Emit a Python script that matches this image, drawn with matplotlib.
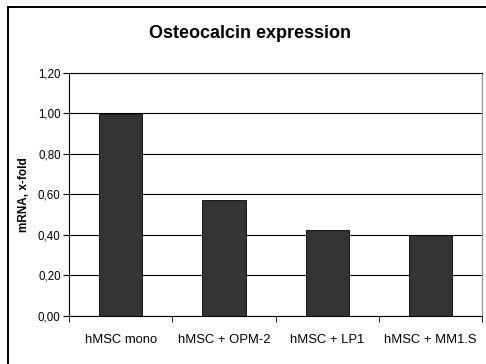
import matplotlib
matplotlib.use("Agg")
import matplotlib.pyplot as plt
from matplotlib.patches import Rectangle
import numpy as np

plt.rcParams['font.family'] = ['Liberation Sans', 'DejaVu Sans']

# data
categories = ["hMSC mono", "hMSC + OPM-2", "hMSC + LP1", "hMSC + MM1.S"]
values = [0.995, 0.57, 0.425, 0.40]
yticks = [0.0, 0.2, 0.4, 0.6, 0.8, 1.0, 1.2]
ytick_labels = ["0,00", "0,20", "0,40", "0,60", "0,80", "1,00", "1,20"]

fig = plt.figure(figsize=(4.86, 3.64), dpi=100)
ax = fig.add_axes([0.142, 0.132, 0.850, 0.668])

x = np.arange(len(categories))
ax.bar(x, values, width=0.42, color="#333333", edgecolor="black", linewidth=0.6, zorder=3)

ax.set_xlim(-0.5, len(categories) - 0.5)
ax.set_ylim(0, 1.2)
ax.set_yticks(yticks)
ax.set_yticklabels(ytick_labels, fontsize=8.3)
ax.yaxis.grid(True, color="black", linewidth=0.8, zorder=0)

# category labels in the middle, tick marks on the boundaries
ax.set_xticks(x)
ax.set_xticklabels(categories, fontsize=9.4)
ax.tick_params(axis="x", which="major", length=0, pad=13)
ax.set_xticks(np.arange(len(categories) + 1) - 0.5, minor=True)
ax.tick_params(axis="x", which="minor", length=4, direction="out", color="black")
ax.tick_params(axis="y", length=4, direction="out", pad=2)

for side in ["left", "bottom", "top"]:
    ax.spines[side].set_color("black")
    ax.spines[side].set_linewidth(0.8)
ax.spines["right"].set_color("#999999")
ax.spines["right"].set_linewidth(1.0)

ax.set_ylabel("mRNA, x-fold", fontsize=8.5, fontweight="bold", labelpad=6)

fig.text(0.515, 0.908, "Osteocalcin expression", ha="center", va="center",
         fontsize=13, fontweight="bold")

# outer chart frame (runs off the right and bottom edges)
fig.patches.append(Rectangle((8 / 486, -0.05), 1.0, 1.05 - 7 / 364,
                             transform=fig.transFigure, fill=False,
                             edgecolor="black", linewidth=1.4))

fig.savefig("out.png", dpi=100)
